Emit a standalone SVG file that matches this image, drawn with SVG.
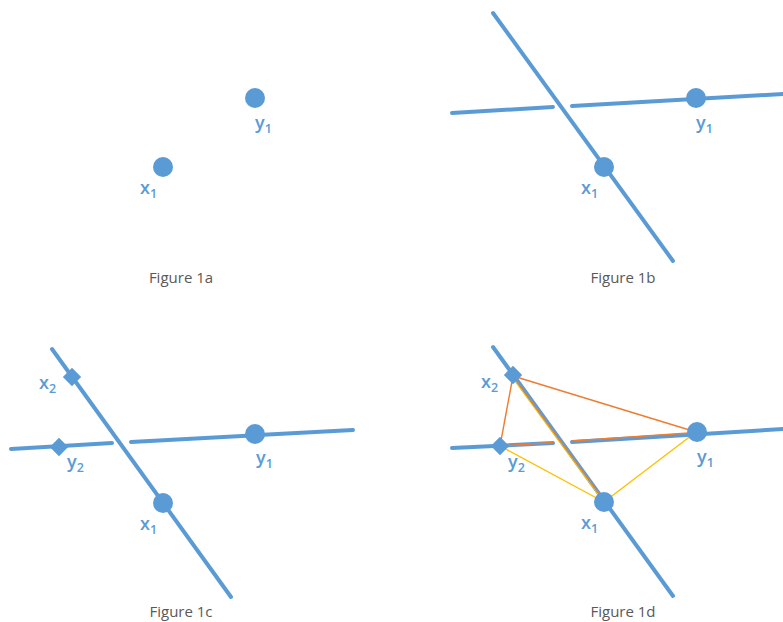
<svg xmlns="http://www.w3.org/2000/svg" width="783" height="622" viewBox="0 0 783 622">
<style>
.ax{stroke:#5B9BD5;stroke-width:4;stroke-linecap:round;fill:none}
.pt{fill:#5B9BD5}
.lb{font-family:"Open Sans","Liberation Sans",sans-serif;font-size:18px;font-weight:600;fill:#5B9BD5}
.sb{font-size:12.5px}
.cap{font-family:"Open Sans","Liberation Sans",sans-serif;font-size:15px;fill:#595959;text-anchor:middle}
.or{stroke:#ED7D31;stroke-width:1.4;fill:none}
.ye{stroke:#FFC000;stroke-width:1.4;fill:none}
.thin{stroke-width:1.1}
</style>
<rect width="783" height="622" fill="#fff"/>
<!-- Figure 1a -->
<g id="fig1a">
  <g id="a_y1"><circle class="pt" cx="255" cy="98" r="10"/><text class="lb" x="255" y="129">y<tspan class="sb" dy="4">1</tspan></text></g>
  <g id="a_x1"><circle class="pt" cx="163" cy="167" r="10"/><text class="lb" x="140" y="194">x<tspan class="sb" dy="4">1</tspan></text></g>
  <text class="cap" x="181" y="283">Figure 1a</text>
</g>
<!-- Figure 1b -->
<g id="fig1b">
  <g id="b_connectors">
    <line class="ax" x1="452" y1="113" x2="553" y2="107"/>
    <line class="ax" x1="572" y1="106" x2="783" y2="94"/>
    <line class="ax" x1="493" y1="13" x2="673" y2="261"/>
  </g>
  <g id="b_y1"><circle class="pt" cx="696" cy="98" r="10"/><text class="lb" x="696" y="129">y<tspan class="sb" dy="4">1</tspan></text></g>
  <g id="b_x1"><circle class="pt" cx="604" cy="167" r="10"/><text class="lb" x="581" y="194">x<tspan class="sb" dy="4">1</tspan></text></g>
  <text class="cap" x="623" y="283">Figure 1b</text>
</g>
<!-- Figure 1c -->
<g id="fig1c">
  <g id="c_connectors">
    <line class="ax" x1="11" y1="449" x2="112" y2="443"/>
    <line class="ax" x1="131" y1="442" x2="353" y2="430"/>
    <line class="ax" x1="52" y1="349" x2="231" y2="597"/>
  </g>
  <g id="c_x2"><rect class="pt" x="-6.5" y="-6.5" width="13" height="13" transform="translate(72 377) rotate(45)"/><text class="lb" x="39" y="389">x<tspan class="sb" dy="4">2</tspan></text></g>
  <g id="c_y2"><rect class="pt" x="-6.5" y="-6.5" width="13" height="13" transform="translate(59 447) rotate(45)"/><text class="lb" x="67" y="468">y<tspan class="sb" dy="4">2</tspan></text></g>
  <g id="c_y1"><circle class="pt" cx="255" cy="434" r="10"/><text class="lb" x="256" y="464">y<tspan class="sb" dy="4">1</tspan></text></g>
  <g id="c_x1"><circle class="pt" cx="163" cy="503" r="10"/><text class="lb" x="140" y="530">x<tspan class="sb" dy="4">1</tspan></text></g>
  <text class="cap" x="181" y="617">Figure 1c</text>
</g>
<!-- Figure 1d -->
<g id="fig1d">
  <g id="d_connectors">
    <line class="ax" x1="452" y1="448" x2="553" y2="443"/>
    <line class="ax" x1="572" y1="442" x2="783" y2="429"/>
    <line class="or" x1="500" y1="446" x2="553" y2="442.5"/>
    <line class="or" x1="572" y1="441" x2="696" y2="432.5"/>
    <line class="ax" x1="493" y1="347" x2="673" y2="596"/>
    <line class="or" x1="513" y1="376" x2="696" y2="432"/>
    <line class="or" x1="513" y1="376" x2="500" y2="446"/>
    <line class="ye" x1="500" y1="446" x2="604" y2="502"/>
    <line class="ye" x1="604" y1="502" x2="696" y2="432"/>
    <line class="or thin" x1="513.8" y1="377" x2="604.8" y2="501"/>
    <line class="ye thin" x1="512.6" y1="378" x2="603.6" y2="502"/>
  </g>
  <g id="d_x2"><rect class="pt" x="-6.5" y="-6.5" width="13" height="13" transform="translate(513 375) rotate(45)"/><text class="lb" x="481" y="388">x<tspan class="sb" dy="4">2</tspan></text></g>
  <g id="d_y2"><rect class="pt" x="-6.5" y="-6.5" width="13" height="13" transform="translate(500 446) rotate(45)"/><text class="lb" x="508" y="468">y<tspan class="sb" dy="4">2</tspan></text></g>
  <g id="d_y1"><circle class="pt" cx="697" cy="432" r="10"/><text class="lb" x="697" y="463">y<tspan class="sb" dy="4">1</tspan></text></g>
  <g id="d_x1"><circle class="pt" cx="604" cy="502" r="10"/><text class="lb" x="581" y="529">x<tspan class="sb" dy="4">1</tspan></text></g>
  <text class="cap" x="623" y="617">Figure 1d</text>
</g>
</svg>
